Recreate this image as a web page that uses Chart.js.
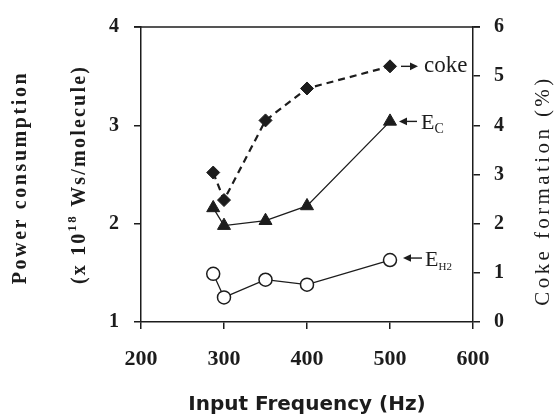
<!DOCTYPE html>
<html>
<head>
<meta charset="utf-8">
<script src="https://cdn.jsdelivr.net/npm/chart.js@4/dist/chart.umd.min.js"></script>
<style>
  html, body { margin: 0; padding: 0; background: #fff; }
  #wrap { width: 557px; height: 415px; }
</style>
</head>
<body>
<div id="wrap"><canvas id="c" width="557" height="415"></canvas></div>
<script>
// ---- data ----
const freq = [287, 300, 350, 400, 500];          // Input frequency (Hz)
const cokeFormation = [3.04, 2.48, 4.10, 4.75, 5.20]; // Coke formation (%), right axis
const powerEC = [2.16, 1.98, 2.03, 2.18, 3.04];   // E_C (x10^18 Ws/molecule)
const powerEH2 = [1.49, 1.25, 1.43, 1.38, 1.63];  // E_H2 (x10^18 Ws/molecule)
const xTicks = [200, 300, 400, 500, 600];
const leftTicks = [1, 2, 3, 4];
const rightTicks = [0, 1, 2, 3, 4, 5, 6];

const INK = '#1c1c1c';
const SERIF = '"Liberation Serif", "Times New Roman", serif';

function pts(xs, ys) { return xs.map((x, i) => ({ x: x, y: ys[i] })); }

function vtext(ctx, txt, x, y, font, spacing) {
  ctx.save();
  ctx.translate(x, y);
  ctx.rotate(-Math.PI / 2);
  ctx.font = font;
  ctx.letterSpacing = spacing || '0px';
  ctx.textAlign = 'center';
  ctx.textBaseline = 'middle';
  ctx.fillText(txt, 0, 0);
  ctx.restore();
}

function arrow(ctx, xFrom, xTo, y) {
  const dir = Math.sign(xTo - xFrom);
  ctx.beginPath();
  ctx.moveTo(xFrom, y);
  ctx.lineTo(xTo - dir * 5, y);
  ctx.lineWidth = 1.4;
  ctx.stroke();
  ctx.beginPath();
  ctx.moveTo(xTo, y);
  ctx.lineTo(xTo - dir * 8, y - 3.8);
  ctx.lineTo(xTo - dir * 8, y + 3.8);
  ctx.closePath();
  ctx.fill();
}

const deco = {
  id: 'deco',
  afterDraw(chart) {
    const ctx = chart.ctx;
    const a = chart.chartArea;
    ctx.save();
    ctx.strokeStyle = INK;
    ctx.fillStyle = INK;
    // top frame line
    ctx.lineWidth = 1.5;
    ctx.beginPath();
    ctx.moveTo(a.left - 7, a.top);
    ctx.lineTo(a.right + 7, a.top);
    ctx.stroke();

    const cy = (a.top + a.bottom) / 2;
    // left title, line 1
    ctx.fillStyle = INK;
    vtext(ctx, 'Power consumption', a.left - 120, cy + 3, 'bold 20px ' + SERIF, '2.6px');
    // left title, line 2 with superscript
    ctx.save();
    ctx.translate(a.left - 61, cy);
    ctx.rotate(-Math.PI / 2);
    ctx.letterSpacing = '2.2px';
    ctx.textBaseline = 'middle';
    ctx.textAlign = 'left';
    const fMain = 'bold 20px ' + SERIF, fSup = 'bold 13px ' + SERIF;
    const p1 = '(x 10', p2 = '18', p3 = ' Ws/molecule)';
    ctx.font = fMain; const w1 = ctx.measureText(p1).width; const w3 = ctx.measureText(p3).width;
    ctx.font = fSup; const w2 = ctx.measureText(p2).width;
    let sx = -(w1 + w2 + w3) / 2;
    ctx.font = fMain; ctx.fillText(p1, sx, 0); sx += w1;
    ctx.font = fSup; ctx.fillText(p2, sx, -7); sx += w2;
    ctx.font = fMain; ctx.fillText(p3, sx, 0);
    ctx.restore();

    // right title
    vtext(ctx, 'Coke formation (%)', a.right + 70, cy + 16, '21px ' + SERIF, '3.4px');

    // x title
    ctx.font = 'bold 20px "DejaVu Sans", sans-serif';
    ctx.letterSpacing = '0px';
    ctx.textAlign = 'center';
    ctx.textBaseline = 'middle';
    ctx.fillText('Input Frequency (Hz)', (a.left + a.right) / 2, a.bottom + 83);

    // annotations at the last point of each series
    const last = freq.length - 1;
    const pCoke = chart.getDatasetMeta(0).data[last];
    const pEC = chart.getDatasetMeta(1).data[last];
    const pEH = chart.getDatasetMeta(2).data[last];

    ctx.textAlign = 'left';
    ctx.textBaseline = 'alphabetic';
    // coke
    arrow(ctx, pCoke.x + 11, pCoke.x + 28, pCoke.y);
    ctx.font = '23px ' + SERIF;
    ctx.fillText('coke', pCoke.x + 34, pCoke.y + 6);
    // E_C
    arrow(ctx, pEC.x + 27, pEC.x + 9, pEC.y);
    ctx.font = '22px ' + SERIF;
    ctx.fillText('E', pEC.x + 31, pEC.y + 8);
    let wE = ctx.measureText('E').width;
    ctx.font = '14px ' + SERIF;
    ctx.fillText('C', pEC.x + 31 + wE, pEC.y + 12);
    // E_H2
    arrow(ctx, pEH.x + 32, pEH.x + 13, pEH.y - 2);
    ctx.font = '22px ' + SERIF;
    ctx.fillText('E', pEH.x + 35, pEH.y + 6);
    wE = ctx.measureText('E').width;
    ctx.font = '11px ' + SERIF;
    ctx.fillText('H2', pEH.x + 35 + wE, pEH.y + 10);
    ctx.restore();
  }
};

const gridOpts = {
  display: true,
  drawOnChartArea: false,
  drawTicks: true,
  tickLength: 7,
  color: INK,
  lineWidth: 1.5
};
const borderOpts = { display: true, color: INK, width: 1.5 };
const tickFontY = { family: SERIF, size: 20, weight: 'bold' };
const tickFontX = { family: SERIF, size: 22, weight: 'bold' };

new Chart(document.getElementById('c'), {
  type: 'scatter',
  data: {
    datasets: [
      {
        label: 'coke',
        data: pts(freq, cokeFormation),
        yAxisID: 'yR',
        showLine: true,
        borderColor: INK,
        borderWidth: 2.2,
        borderDash: [7, 5],
        pointStyle: 'rectRot',
        pointRadius: 6.5,
        pointBackgroundColor: INK,
        pointBorderColor: INK,
        pointBorderWidth: 1
      },
      {
        label: 'E_C',
        data: pts(freq, powerEC),
        yAxisID: 'y',
        showLine: true,
        borderColor: INK,
        borderWidth: 1.3,
        pointStyle: 'triangle',
        pointRadius: 7.5,
        pointBackgroundColor: INK,
        pointBorderColor: INK,
        pointBorderWidth: 1
      },
      {
        label: 'E_H2',
        data: pts(freq, powerEH2),
        yAxisID: 'y',
        showLine: true,
        borderColor: INK,
        borderWidth: 1.3,
        pointStyle: 'circle',
        pointRadius: 6.5,
        pointBackgroundColor: '#ffffff',
        pointBorderColor: INK,
        pointBorderWidth: 1.5
      }
    ]
  },
  options: {
    responsive: false,
    animation: false,
    events: [],
    layout: { padding: { top: 20, left: 0, right: 0, bottom: 0 } },
    plugins: { legend: { display: false }, tooltip: { enabled: false }, title: { display: false } },
    scales: {
      x: {
        type: 'linear',
        position: 'bottom',
        min: xTicks[0],
        max: xTicks[xTicks.length - 1],
        afterBuildTicks: s => { s.ticks = xTicks.map(v => ({ value: v })); },
        afterFit: s => { s.height = 93; },
        grid: gridOpts,
        border: borderOpts,
        ticks: { color: INK, font: tickFontX, padding: 17, maxRotation: 0 }
      },
      y: {
        type: 'linear',
        position: 'left',
        min: leftTicks[0],
        max: leftTicks[leftTicks.length - 1],
        afterBuildTicks: s => { s.ticks = leftTicks.map(v => ({ value: v })); },
        afterFit: s => { s.width = 141; },
        grid: gridOpts,
        border: borderOpts,
        ticks: { color: INK, font: tickFontY, padding: 15 }
      },
      yR: {
        type: 'linear',
        position: 'right',
        min: rightTicks[0],
        max: rightTicks[rightTicks.length - 1],
        afterBuildTicks: s => { s.ticks = rightTicks.map(v => ({ value: v })); },
        afterFit: s => { s.width = 84; },
        grid: gridOpts,
        border: borderOpts,
        ticks: { color: INK, font: tickFontY, padding: 14 }
      }
    }
  },
  plugins: [deco]
});
</script>
</body>
</html>
